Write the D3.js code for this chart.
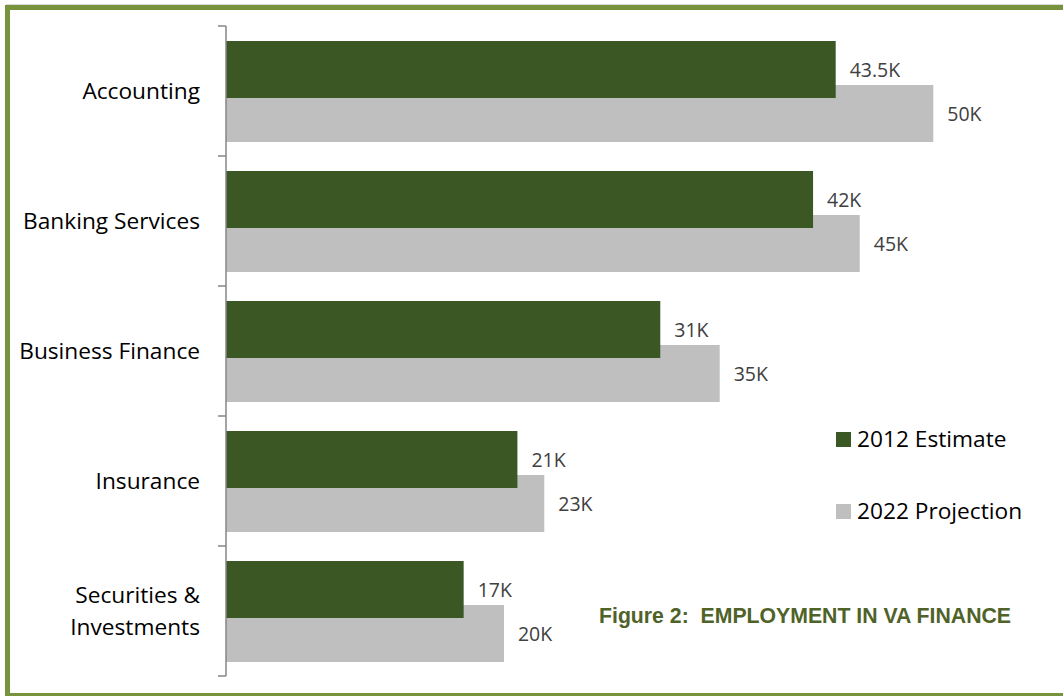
<!DOCTYPE html>
<html>
<head>
<meta charset="utf-8">
<script src="https://cdn.jsdelivr.net/npm/d3@7"></script>
<style>
  html, body { margin: 0; padding: 0; background: #fff; }
  svg { display: block; }
</style>
</head>
<body>
<div id="chart"></div>
<script>
// categories (multi-line names split with |)
const categories = ["Accounting", "Banking Services", "Business Finance", "Insurance", "Securities &|Investments"];
// values in thousands
const estimate2012 = [43.1, 41.5, 30.7, 20.6, 16.8];
const projection2022 = [50, 44.8, 34.9, 22.5, 19.65];
// labels printed next to bars
const estimateLabels = ["43.5K", "42K", "31K", "21K", "17K"];
const projectionLabels = ["50K", "45K", "35K", "23K", "20K"];
const seriesNames = ["2012 Estimate", "2022 Projection"];
const title = "Figure 2:  EMPLOYMENT IN VA FINANCE";

const width = 1063, height = 696;
const green = "#3a5724", grey = "#bfbfbf";
const font = "'Open Sans', 'DejaVu Sans', sans-serif";

const svg = d3.select("#chart").append("svg")
    .attr("width", width)
    .attr("height", height);

// outer frame
svg.append("line")
    .attr("x1", 6).attr("x2", width).attr("y1", 4.5).attr("y2", 4.5)
    .style("stroke", "#d9d9d9").style("stroke-width", 1);
svg.append("rect")
    .attr("x", 7.5).attr("y", 7.5)
    .attr("width", 1062).attr("height", 688)
    .style("fill", "none")
    .style("stroke", "#77933c")
    .style("stroke-width", 5);

// scales
const x = d3.scaleLinear().domain([0, 50]).range([226, 933.3]);
const y = d3.scaleBand().domain(categories).range([26, 676]).paddingInner(0).paddingOuter(0);
const barH = 57;

// bars: grey drawn first, green overlaps it
const rows = svg.append("g").selectAll("g")
    .data(categories)
    .enter()
    .append("g")
    .attr("transform", d => `translate(0, ${y(d)})`);

rows.append("rect")
    .attr("x", x(0))
    .attr("y", 59)
    .attr("width", (d, i) => x(projection2022[i]) - x(0))
    .attr("height", barH)
    .style("fill", grey);

rows.append("rect")
    .attr("x", x(0))
    .attr("y", 15)
    .attr("width", (d, i) => x(estimate2012[i]) - x(0))
    .attr("height", barH)
    .style("fill", green);

// value labels
rows.append("text")
    .attr("x", (d, i) => x(estimate2012[i]) + 14)
    .attr("y", 15 + barH / 2)
    .attr("dy", "0.36em")
    .text((d, i) => estimateLabels[i])
    .style("font-family", font)
    .style("font-size", "19.5px")
    .style("fill", "#404040");

rows.append("text")
    .attr("x", (d, i) => x(projection2022[i]) + 14)
    .attr("y", 59 + barH / 2)
    .attr("dy", "0.36em")
    .text((d, i) => projectionLabels[i])
    .style("font-family", font)
    .style("font-size", "19.5px")
    .style("fill", "#404040");

// category axis: line plus ticks on band boundaries
const axis = svg.append("g");
axis.append("line")
    .attr("x1", x(0)).attr("x2", x(0))
    .attr("y1", y.range()[0]).attr("y2", y.range()[1])
    .style("stroke", "#868686").style("stroke-width", 1.5);

const bounds = categories.map(c => y(c)).concat([y.range()[1]]);
axis.selectAll(".tick")
    .data(bounds)
    .enter()
    .append("line")
    .attr("class", "tick")
    .attr("x1", x(0) - 8).attr("x2", x(0))
    .attr("y1", d => d).attr("y2", d => d)
    .style("stroke", "#868686").style("stroke-width", 1.5);

const catLabels = axis.selectAll(".cat")
    .data(categories)
    .enter()
    .append("text")
    .attr("class", "cat")
    .attr("text-anchor", "end")
    .style("font-family", font)
    .style("font-size", "22.7px")
    .style("fill", "#000");

catLabels.each(function(d) {
    const lines = d.split("|");
    const cy = y(d) + y.bandwidth() / 2;
    const lh = 32;
    d3.select(this).selectAll("tspan")
        .data(lines)
        .enter()
        .append("tspan")
        .attr("x", 200)
        .attr("y", (l, j) => cy + (j - (lines.length - 1) / 2) * lh)
        .attr("dy", "0.36em")
        .text(l => l);
});

// legend
const legend = svg.append("g").selectAll("g")
    .data(seriesNames)
    .enter()
    .append("g")
    .attr("transform", (d, i) => `translate(836, ${432 + i * 72})`);

legend.append("rect")
    .attr("width", 15).attr("height", 15)
    .style("fill", (d, i) => i === 0 ? green : grey);

legend.append("text")
    .attr("x", 21)
    .attr("y", 15)
    .text(d => d)
    .style("font-family", font)
    .style("font-size", "22.7px")
    .style("fill", "#000");

// figure caption
svg.append("text")
    .attr("x", 599)
    .attr("y", 623)
    .attr("textLength", 412)
    .attr("lengthAdjust", "spacingAndGlyphs")
    .attr("xml:space", "preserve")
    .text(title)
    .style("white-space", "pre")
    .style("font-family", "'Liberation Sans Narrow', 'Liberation Sans', Arial, sans-serif")
    .style("font-weight", "bold")
    .style("font-size", "21.5px")
    .style("fill", "#4f6228");
</script>
</body>
</html>
